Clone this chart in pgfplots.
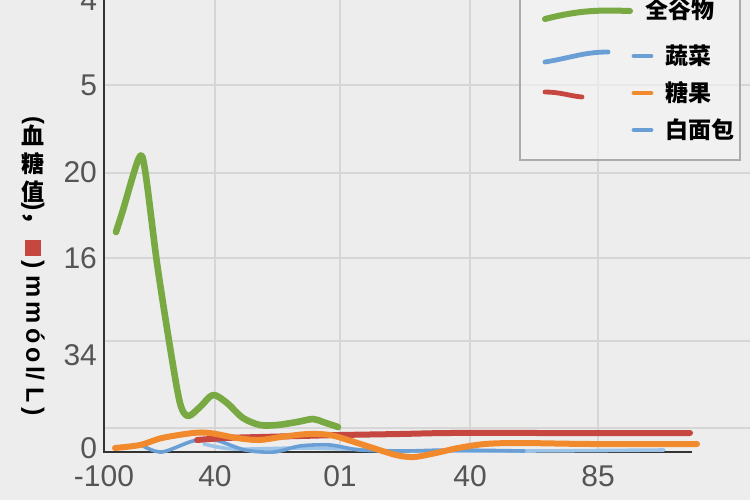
\documentclass[border=0pt]{standalone}
\usepackage{pgfplots}
\pgfplotsset{compat=1.18}
\usepackage{fontspec}
\setmainfont{Liberation Sans}
\newfontfamily\cjk{Noto Sans CJK SC}
\definecolor{bg}{HTML}{EDEDED}
\definecolor{gridc}{HTML}{D6D6D6}
\definecolor{tickc}{HTML}{555555}
\definecolor{cgreen}{HTML}{78A942}
\definecolor{cblue}{HTML}{6A9FD6}
\definecolor{cblue2}{HTML}{9CC3E8}
\definecolor{cred}{HTML}{C5473F}
\definecolor{corange}{HTML}{F08A2C}
\begin{document}
\begin{tikzpicture}
\fill[bg] (0,0) rectangle (375pt,250pt);
\useasboundingbox (0,0) rectangle (375pt,250pt);
\begin{axis}[at={(52pt,24pt)},anchor=south west,scale only axis,
  width=323pt,height=226pt,xmin=0,xmax=646,ymin=0,ymax=452,
  clip=false,axis line style={draw=none},
  xtick={0,111,236,366,494},xticklabels={-100,40,01,40,85},
  ytick={4,97,194,280,367,452},yticklabels={0,34,16,20,5,4},
  major tick length=0pt,
  xmajorgrids=true,ymajorgrids=false,
  extra y ticks={24,111,194,279,367},extra y tick labels={},
  extra y tick style={grid=major},
  grid style={color=gridc,line width=0.6pt},
  tick label style={font=\fontsize{15}{15}\selectfont,text=tickc},
  xticklabel style={yshift=-3pt},
  every axis plot/.append style={smooth,line width=3pt,line cap=round,line join=round},
]
\draw[black!80,line width=1pt] (axis cs:0,452) -- (axis cs:0,0) -- (axis cs:588,0);
\addplot[cblue2,line width=1.8pt] coordinates {(100,8)(130,3)(196,4)(240,3)(300,1)(420,1)(560,2)};
\addplot[cblue,line width=1.8pt] coordinates {(39,6)(58,0)(89,11)(111,12)(141,2)(170,0)(196,6)(226,7)(256,2)(300,1)(346,2)(420,1)};
\addplot[cred] coordinates {(93,12)(121,14)(156,15)(196,16)(236,17)(296,18)(346,19)(446,19)(586,19)};
\addplot[cgreen,line width=3.3pt] coordinates {(12,220)(19,242)(35,294)(41,282)(53,189)(66,105)(76,49)(84,36)(96,45)(109,57)(123,49)(139,34)(156,27)(173,27)(193,30)(209,33)(219,30)(234,25)};
\addplot[corange] coordinates {(11,4)(36,7)(58,14)(89,19)(106,19)(133,14)(155,12)(177,15)(204,18)(226,17)(244,12)(266,5)(292,-3)(310,-5)(332,-1)(354,4)(381,8)(416,9)(487,8)(593,8)};
\end{axis}
% legend
\filldraw[fill=bg!60!white,fill opacity=0.6,draw=gridc!80!black,line width=0.8pt] (260pt,255pt) rectangle (370pt,170pt);
\draw[cgreen,line width=3pt,line cap=round] (272.5pt,240.5pt) .. controls (290pt,245pt) and (300pt,245pt) .. (315pt,244.5pt);
\draw[cblue,line width=2.4pt,line cap=round] (272.5pt,219pt) .. controls (285pt,221pt) and (292pt,224pt) .. (304pt,224pt);
\draw[cred,line width=2.4pt,line cap=round] (272.5pt,204pt) .. controls (280pt,204pt) and (285pt,202pt) .. (291pt,201.5pt);
\draw[cblue,line width=2.4pt,line cap=round] (317pt,222pt) -- (325.5pt,222pt);
\draw[corange,line width=2.4pt,line cap=round] (317pt,203.5pt) -- (325.5pt,203.5pt);
\draw[cblue,line width=2.4pt,line cap=round] (317pt,185pt) -- (325.5pt,185pt);
\tikzset{lg/.style={anchor=west,font=\cjk\bfseries\fontsize{11.5}{11.5}\selectfont,inner sep=0}}
\node[lg] at (322.5pt,245pt) {全谷物};
\node[lg] at (332.5pt,222pt) {蔬菜};
\node[lg] at (332.5pt,203.5pt) {糖果};
\node[lg] at (332.5pt,185pt) {白面包};
% y label
\node[rotate=-90,font=\bfseries\fontsize{12}{12}\selectfont,inner sep=0] at (16.5pt,190pt) {(};
\node[align=center,font=\cjk\bfseries\fontsize{11.5}{13.5}\selectfont,inner sep=0] at (16.5pt,168pt) {血\\[0.5pt]糖\\[0.5pt]值};
\node[rotate=-90,anchor=west,font=\bfseries\fontsize{12.5}{12.5}\selectfont,inner sep=0] at (16.5pt,149pt)
  {){\cjk ，}\,\textcolor{cred}{\rule[-0.5pt]{8pt}{8pt}}\,) m\,m\,ó\,o\,l/ L\,)};
\end{tikzpicture}
\end{document}
